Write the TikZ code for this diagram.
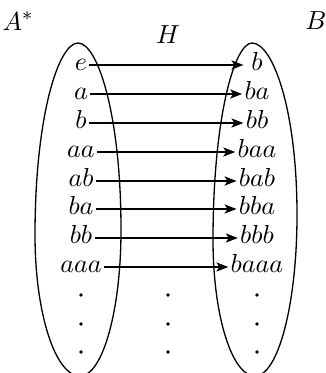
\documentclass[tikz,border=0pt]{standalone}
\usetikzlibrary{arrows.meta}
\begin{document}
\begin{tikzpicture}[x=0.42pt,y=-0.42pt,
  oval/.style={line width=0.55pt},
  lbl/.style={inner sep=0.8pt,font=\fontsize{11}{13}\selectfont,text height=1.5ex,text depth=0.5ex},
  rlbl/.style={lbl,minimum width=11pt},
  ttl/.style={inner sep=0.8pt,font=\fontsize{11}{13}\selectfont},
  conn/.style={line width=0.8pt,-{Stealth[length=5pt,width=3.8pt,inset=1.2pt]}},
  dotn/.style={circle,fill=black,inner sep=0pt,minimum size=1.5pt}]
\useasboundingbox (0,0) rectangle (325,373);
\begin{scope}
\clip (0,0) rectangle (325,373);
\draw[oval] (78,43) .. controls (97.5,43) and (121,114) .. (121,230)
  .. controls (121,310.6) and (102.6,376) .. (80,376)
  .. controls (55.2,376) and (35,312.8) .. (35,235)
  .. controls (35,116) and (58.5,43) .. cycle;
\draw[oval] (252,43) .. controls (272.3,43) and (297,108) .. (297,215)
  .. controls (297,303.9) and (278.2,376) .. (255,376)
  .. controls (231.8,376) and (213,315.1) .. (213,240)
  .. controls (213,118) and (234.5,43) .. cycle;
\end{scope}
\node[ttl] (Astar) at (18,21) {$A^*$};
\node[ttl] (H) at (168,35) {$H$};
\node[ttl] (B) at (316,21) {$B$};
\foreach \i/\yy/\l/\r in {0/65/e/b,1/94/a/ba,2/123/b/bb,3/152/aa/baa,4/181/ab/bab,5/209/ba/bba,6/238/bb/bbb,7/267/aaa/baaa}{
  \node[lbl] (L\i) at (81,\yy) {$\l$};
  \node[rlbl] (R\i) at (257,\yy) {$\r$};
  \draw[conn] (L\i.east) -- (R\i.west);
}
\foreach \j/\yy in {0/295,1/324,2/352}{
  \node[dotn] (DL\j) at (81,\yy) {};
  \node[dotn] (DM\j) at (168,\yy) {};
  \node[dotn] (DR\j) at (257,\yy) {};
}
\end{tikzpicture}
\end{document}
